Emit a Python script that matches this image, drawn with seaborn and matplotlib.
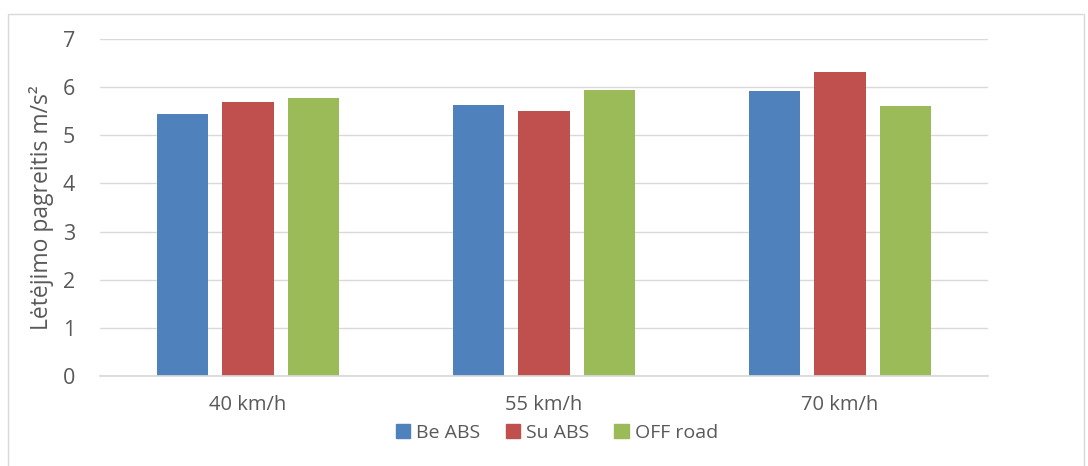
import matplotlib
matplotlib.use("Agg")
import matplotlib.pyplot as plt
from matplotlib.patches import Rectangle
import seaborn as sns
import pandas as pd

categories = ["40 km/h", "55 km/h", "70 km/h"]
series = ["Be ABS", "Su ABS", "OFF road"]
be_abs = [5.44, 5.63, 5.91]
su_abs = [5.70, 5.50, 6.31]
off_road = [5.77, 5.95, 5.61]
colors = ["#4f81bd", "#c0504d", "#9bbb59"]

df = pd.DataFrame({
    "speed": categories * 3,
    "series": [s for s in series for _ in categories],
    "value": be_abs + su_abs + off_road,
})

sns.set_theme(style="white")
plt.rcParams["font.family"] = ["Open Sans", "DejaVu Sans"]

fig = plt.figure(figsize=(10.88, 4.66), dpi=100)
ax = fig.add_axes([100 / 1088, 1 - 376 / 466, 888 / 1088, 337 / 466])

sns.barplot(data=df, x="speed", y="value", hue="series", palette=colors,
            width=0.664, gap=0.22, ax=ax, legend=False, saturation=1,
            linewidth=0)

ax.set_ylim(0, 7)
ax.set_xlim(-0.5, 2.5)
ax.set_yticks(range(0, 8))
ax.yaxis.grid(True, color="#d9d9d9", linewidth=1)
ax.set_axisbelow(True)
for s in ["top", "right", "left"]:
    ax.spines[s].set_visible(False)
ax.spines["bottom"].set_color("#d9d9d9")
ax.tick_params(axis="both", colors="#595959", length=0)
ax.tick_params(axis="y", labelsize=15.5, pad=18)
ax.tick_params(axis="x", labelsize=14.5, pad=14)
ax.set_xlabel("")
ax.set_ylabel("Lėtėjimo pagreitis m/s²", fontsize=16.5, color="#595959", labelpad=6)

handles = [Rectangle((0, 0), 1, 1, color=c) for c in colors]
fig.legend(handles, series, loc="center", bbox_to_anchor=(557 / 1088, 1 - 433 / 466),
           ncol=3, frameon=False, fontsize=14, handlelength=0.75, handleheight=0.75,
           handletextpad=0.3, columnspacing=1.3, labelcolor="#595959")

fig.patches.append(Rectangle((8 / 1088, -0.1), 1076 / 1088, 1 - 14 / 466 + 0.1,
                             transform=fig.transFigure, fill=False,
                             edgecolor="#d9d9d9", linewidth=1))

fig.savefig("out.png", dpi=100)
